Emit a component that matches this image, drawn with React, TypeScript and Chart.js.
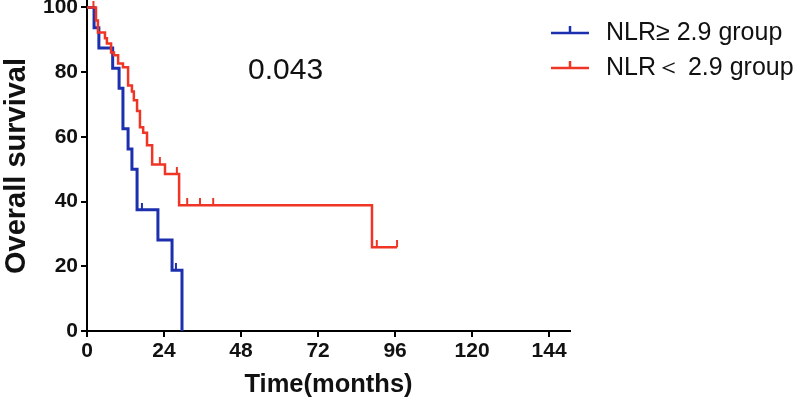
import React, { useEffect, useRef } from "react";
import { Chart, registerables } from "chart.js";

Chart.register(...registerables);

// ---- data ----
const xTicks = [0, 24, 48, 72, 96, 120, 144];
const yTicks = [0, 20, 40, 60, 80, 100];

const highLabel = "NLR≥ 2.9 group";
const lowLabel = "NLR＜ 2.9 group";
const pValueText = "0.043";

// NLR >= 2.9 group (blue)
const highTimes = [0, 2.2, 3.7, 8.0, 10.0, 11.2, 12.8, 14.0, 15.6, 22.1, 26.5, 29.6];
const highSurv = [100, 93.75, 87.5, 81.25, 75, 62.5, 56.25, 50, 37.5, 28.1, 18.75, 0];
const highCensorTimes = [17.1, 27.7];
const highCensorSurv = [37.5, 18.75];

// NLR < 2.9 group (red)
const lowTimes = [0, 2.8, 3.4, 5.6, 6.2, 7.5, 8.4, 9.7, 11.2, 12.8, 14.0, 14.6, 15.6, 16.5, 17.5, 18.7, 20.3, 24.3, 28.7, 88.8, 96.6];
const lowSurv = [100, 96, 92.3, 90.5, 88.9, 86.1, 85.2, 82.7, 81.5, 75.9, 74, 71.3, 68, 63, 61.3, 57.4, 51.5, 48.5, 38.9, 25.9, 25.9];
const lowCensorTimes = [2.0, 22.7, 28.0, 31.2, 35.2, 39.3, 90.3, 96.6];
const lowCensorSurv = [100, 51.5, 48.5, 38.9, 38.9, 38.9, 25.9, 25.9];

const BLUE = "#1c2fae";
const RED = "#ef3526";
const FONT = '"Liberation Sans", Arial, sans-serif';

function makeTick(color: string) {
  const c = document.createElement("canvas");
  c.width = 4;
  c.height = 14;
  const ctx = c.getContext("2d")!;
  ctx.strokeStyle = color;
  ctx.lineWidth = 2;
  ctx.beginPath();
  ctx.moveTo(2, 0);
  ctx.lineTo(2, 7);
  ctx.stroke();
  return c;
}

const overlayPlugin = {
  id: "overlay",
  afterDraw(chart: any) {
    const ctx = chart.ctx;
    ctx.save();
    // p-value
    ctx.fillStyle = "#111";
    ctx.font = `30px ${FONT}`;
    ctx.textBaseline = "middle";
    ctx.textAlign = "left";
    ctx.fillText(pValueText, 248, 71);
    // legend
    const rows = [
      { label: highLabel, color: BLUE, y: 33 },
      { label: lowLabel, color: RED, y: 68 },
    ];
    for (const r of rows) {
      ctx.strokeStyle = r.color;
      ctx.lineWidth = 2.5;
      ctx.beginPath();
      ctx.moveTo(551, r.y);
      ctx.lineTo(589, r.y);
      ctx.moveTo(570, r.y);
      ctx.lineTo(570, r.y - 7);
      ctx.stroke();
      ctx.fillStyle = "#111";
      ctx.font = `25px ${FONT}`;
      ctx.fillText(r.label, 606, r.y);
    }
    ctx.restore();
  },
};

export default function App() {
  const ref = useRef<HTMLCanvasElement>(null);
  useEffect(() => {
    if (!ref.current) return;
    const blueTick = makeTick(BLUE);
    const redTick = makeTick(RED);
    const chart = new Chart(ref.current, {
      type: "line",
      data: {
        datasets: [
          {
            label: lowLabel,
            data: lowTimes.map((t, i) => ({ x: t, y: lowSurv[i] })),
            borderColor: RED,
            borderWidth: 2.5,
            stepped: "before",
            pointRadius: 0,
            fill: false,
          },
          {
            label: highLabel,
            data: highTimes.map((t, i) => ({ x: t, y: highSurv[i] })),
            borderColor: BLUE,
            borderWidth: 3,
            stepped: "before",
            pointRadius: 0,
            fill: false,
          },
          {
            label: "low censored",
            data: lowCensorTimes.map((t, i) => ({ x: t, y: lowCensorSurv[i] })),
            showLine: false,
            pointStyle: redTick as any,
            pointRadius: 7,
          },
          {
            label: "high censored",
            data: highCensorTimes.map((t, i) => ({ x: t, y: highCensorSurv[i] })),
            showLine: false,
            pointStyle: blueTick as any,
            pointRadius: 7,
          },
        ],
      },
      options: {
        animation: false,
        responsive: true,
        maintainAspectRatio: false,
        layout: { autoPadding: false, padding: { top: 1, right: 230, left: 0, bottom: 0 } },
        plugins: { legend: { display: false }, tooltip: { enabled: false } },
        scales: {
          x: {
            type: "linear",
            min: 0,
            max: 150.5,
            afterBuildTicks: (s: any) => {
              s.ticks = xTicks.map((v) => ({ value: v }));
            },
            afterFit: (s: any) => {
              s.height = 73;
              s.paddingLeft = 0;
            },
            grid: { drawOnChartArea: false, drawTicks: true, tickLength: 6, color: "#000", lineWidth: 2 },
            border: { display: true, color: "#000", width: 2 },
            ticks: { color: "#111", font: { family: FONT, size: 21, weight: "bold" }, padding: 2, maxRotation: 0, autoSkip: false },
            title: { display: true, text: "Time(months)", color: "#111", font: { family: FONT, size: 25.5, weight: "bold" }, padding: { top: 0 } },
          },
          y: {
            type: "linear",
            min: 0,
            max: 102,
            afterBuildTicks: (s: any) => {
              s.ticks = yTicks.map((v) => ({ value: v }));
            },
            afterFit: (s: any) => {
              s.width = 87;
              s.paddingTop = 0;
              s.paddingBottom = 0;
            },
            grid: { drawOnChartArea: false, drawTicks: true, tickLength: 6, color: "#000", lineWidth: 2 },
            border: { display: true, color: "#000", width: 2 },
            ticks: { color: "#111", font: { family: FONT, size: 21, weight: "bold" }, padding: 3 },
            title: { display: true, text: "Overall survival", color: "#111", font: { family: FONT, size: 29, weight: "bold" }, padding: { bottom: 0, top: 0 } },
          },
        },
      },
      plugins: [overlayPlugin],
    });
    return () => chart.destroy();
  }, []);
  return (
    <div style={{ position: "absolute", left: 0, top: 0, width: 800, height: 404, background: "#fff" }}>
      <canvas ref={ref} />
    </div>
  );
}
